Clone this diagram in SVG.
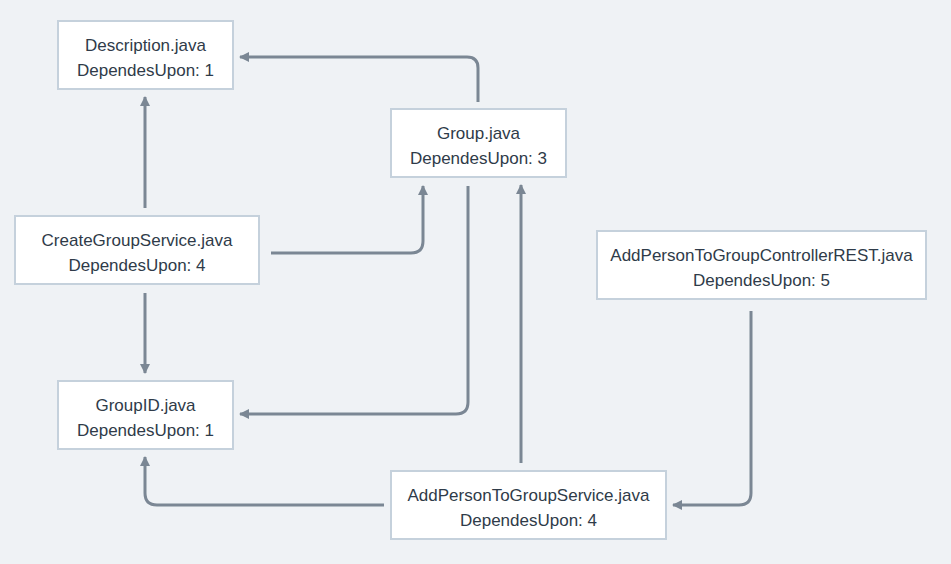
<svg xmlns="http://www.w3.org/2000/svg" width="951" height="564" viewBox="0 0 951 564">
<defs>
<style>
.node rect{fill:#ffffff;stroke:#c5d1dc;stroke-width:2}
.node text{font-family:"Liberation Sans",Arial,sans-serif;font-size:17px;fill:#2f3b49;text-anchor:middle}
.edge{fill:none;stroke:#7b8794;stroke-width:3}
</style>
<marker id="ah" viewBox="0 0 10 10" refX="9" refY="5" markerWidth="10" markerHeight="10" markerUnits="userSpaceOnUse" orient="auto">
<path d="M0,0 L10,5 L0,10 Z" fill="#7b8794"/>
</marker>
</defs>
<rect width="951" height="564" fill="#eff2f5"/>
<g id="connectors">
<path class="edge" marker-end="url(#ah)" d="M478,102 V68 Q478,57 467,57 H240"/>
<path class="edge" marker-end="url(#ah)" d="M145,208 V97"/>
<path class="edge" marker-end="url(#ah)" d="M271,253 H411 Q423,253 423,241 V186"/>
<path class="edge" marker-end="url(#ah)" d="M468,186 V402 Q468,414 456,414 H240"/>
<path class="edge" marker-end="url(#ah)" d="M521,463 V185"/>
<path class="edge" marker-end="url(#ah)" d="M145,293 V373"/>
<path class="edge" marker-end="url(#ah)" d="M384,505 H157 Q145,505 145,493 V457"/>
<path class="edge" marker-end="url(#ah)" d="M751,311 V493 Q751,505 739,505 H673"/>
</g>
<g id="description" class="node"><rect x="58" y="21" width="175" height="68"/><text x="145.5" y="51">Description.java</text><text x="145.5" y="76">DependesUpon: 1</text></g>
<g id="group" class="node"><rect x="391" y="109" width="175" height="68"/><text x="478.5" y="139">Group.java</text><text x="478.5" y="164">DependesUpon: 3</text></g>
<g id="createGroupService" class="node"><rect x="15" y="216" width="244" height="68"/><text x="137" y="246">CreateGroupService.java</text><text x="137" y="271">DependesUpon: 4</text></g>
<g id="addPersonToGroupControllerREST" class="node"><rect x="597" y="231" width="329" height="68"/><text x="761.5" y="261">AddPersonToGroupControllerREST.java</text><text x="761.5" y="286">DependesUpon: 5</text></g>
<g id="groupID" class="node"><rect x="58" y="381" width="175" height="68"/><text x="145.5" y="411">GroupID.java</text><text x="145.5" y="436">DependesUpon: 1</text></g>
<g id="addPersonToGroupService" class="node"><rect x="391" y="471" width="275" height="68"/><text x="528.5" y="501">AddPersonToGroupService.java</text><text x="528.5" y="526">DependesUpon: 4</text></g>
</svg>
